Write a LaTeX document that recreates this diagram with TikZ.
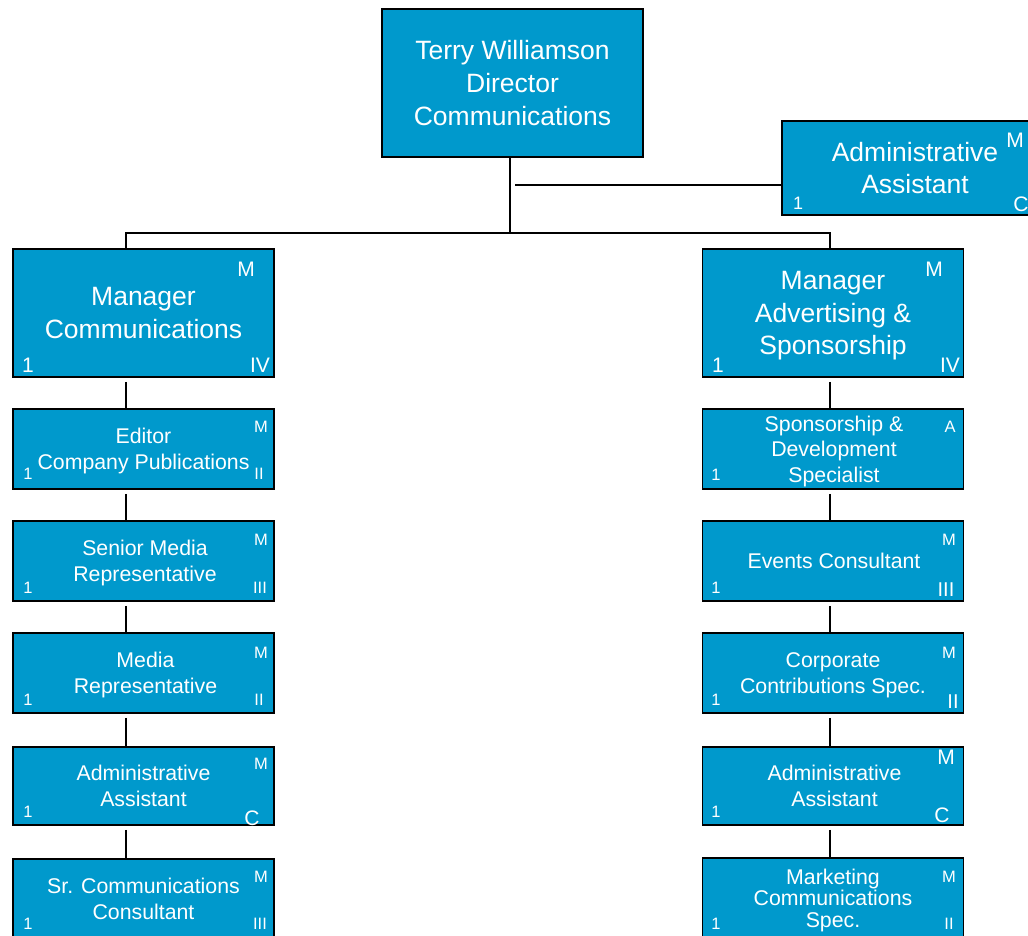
\documentclass[tikz,border=0pt]{standalone}
\usepackage{fontspec}
\setmainfont{Liberation Sans}
\definecolor{boxblue}{RGB}{0,153,204}
\newcommand\bigf{\fontsize{26.5}{32.5}\selectfont}
\newcommand\smallf{\fontsize{21.3}{25.7}\selectfont}
\newcommand\lblbig{\fontsize{21}{24}\selectfont}
\newcommand\lblsm{\fontsize{16.5}{19}\selectfont}
\begin{document}
\begin{tikzpicture}[x=1pt,y=-1pt,
  orgbox/.style={draw=black, line width=1.8pt, fill=boxblue, text=white, inner sep=0pt, align=center, minimum width=261pt},
  bigbox/.style={orgbox, minimum height=128pt, font=\bigf, text depth=0pt},
  smbox/.style={orgbox, minimum height=80pt, font=\smallf, text depth=0pt},
  lbl/.style={text=white, inner sep=0pt, anchor=center, font=\lblsm},
  lblb/.style={text=white, inner sep=0pt, anchor=center, font=\lblbig},
  conn/.style={line width=1.8pt}]
\clip (0,0) rectangle (1028,935);
\useasboundingbox (0,0) rectangle (1028,935);

% top
\node[orgbox, minimum height=148pt, font=\fontsize{26.5}{33}\selectfont] (top) at (512.5,83) {Terry Williamson\\Director\\Communications};
\node[orgbox, minimum width=262pt, minimum height=94pt, font=\bigf] (adm) at (913,168) {\hspace*{4pt}Administrative\\\hspace*{4pt}Assistant};
\node[lblb] (admM) at (1015,140) {M};
\node[lbl, font=\fontsize{18}{20}\selectfont] (adm1) at (798,203) {1};
\node[lblb] (admC) at (1021,204) {C};

% left column
\node[bigbox] (mc) at (143.5,313) {Manager\\Communications};
\node[lblb] (mcM) at (246,269) {M};
\node[lblb] (mc1) at (28,365) {1};
\node[lblb] (mcG) at (260,365) {IV};

\node[smbox] (ed) at (143.5,449) {Editor\\Company Publications};
\node[lbl] (edM) at (261,427) {M};
\node[lbl] (ed1) at (28,474) {1};
\node[lbl] (edG) at (259,474) {II};

\node[smbox] (sm) at (143.5,561) {\hspace*{3pt}Senior Media\\\hspace*{3pt}Representative};
\node[lbl] (smM) at (261,540) {M};
\node[lbl] (sm1) at (28,588) {1};
\node[lbl] (smG) at (260,588) {III};

\node[smbox] (mr) at (143.5,673) {\hspace*{4pt}Media\\\hspace*{4pt}Representative};
\node[lbl] (mrM) at (261,653) {M};
\node[lbl] (mr1) at (28,700) {1};
\node[lbl] (mrG) at (259,700) {II};

\node[smbox, minimum height=78pt] (aa) at (143.5,786) {Administrative\\Assistant};
\node[lbl] (aaM) at (261,764) {M};
\node[lbl] (aa1) at (28,812) {1};
\node[lblb] (aaG) at (252,818) {C};

\node[smbox] (sc) at (143.5,899) {Sr. Communications\\Consultant};
\node[lbl] (scM) at (261,877) {M};
\node[lbl] (sc1) at (28,924) {1};
\node[lbl] (scG) at (260,924) {III};

% right column
\node[bigbox] (ma) at (833,313) {Manager\\Advertising \&\\Sponsorship};
\node[lblb] (maM) at (934,269) {M};
\node[lblb] (ma1) at (718,365) {1};
\node[lblb] (maG) at (950,365) {IV};

\node[smbox] (sp) at (833,449) {\hspace*{2pt}Sponsorship \&\\\hspace*{2pt}Development\\\hspace*{2pt}Specialist};
\node[lbl] (spM) at (950,427) {A};
\node[lbl] (sp1) at (716,475) {1};

\node[smbox] (ev) at (833,561) {\hspace*{2pt}Events Consultant};
\node[lbl] (evM) at (949,540) {M};
\node[lbl] (ev1) at (716,588) {1};
\node[lbl, font=\fontsize{20}{22}\selectfont] (evG) at (946,590) {III};

\node[smbox] (cc) at (833,673) {Corporate\\Contributions Spec.};
\node[lbl] (ccM) at (949,653) {M};
\node[lbl] (cc1) at (716,700) {1};
\node[lbl, font=\fontsize{20}{22}\selectfont] (ccG) at (953,702) {II};

\node[smbox, minimum height=78pt] (ab) at (833,786) {\hspace*{3pt}Administrative\\\hspace*{3pt}Assistant};
\node[lblb] (abM) at (946,757) {M};
\node[lbl] (ab1) at (716,812) {1};
\node[lblb] (abG) at (942,815) {C};

\node[smbox, font=\fontsize{21.3}{21.5}\selectfont] (mk) at (833,898) {Marketing\\Communications\\Spec.};
\node[lbl] (mkM) at (949,877) {M};
\node[lbl] (mk1) at (716,924) {1};
\node[lbl] (mkG) at (949,924) {II};

% connectors
\coordinate (bus) at (510,233);
\coordinate (aend) at (515,185);
\draw[conn] ([xshift=-2.5pt]top.south) -- (bus);
\draw[conn] ([xshift=-17.5pt]mc.north) |- (bus) -| ([xshift=-3pt]ma.north);
\draw[conn] (aend) -- (aend -| adm.west);

\draw[conn] ([xshift=-17.5pt,yshift=-4pt]mc.south) -- ([xshift=-17.5pt]ed.north);
\draw[conn] ([xshift=-17.5pt,yshift=-4pt]ed.south) -- ([xshift=-17.5pt]sm.north);
\draw[conn] ([xshift=-17.5pt,yshift=-4pt]sm.south) -- ([xshift=-17.5pt]mr.north);
\draw[conn] ([xshift=-17.5pt,yshift=-4pt]mr.south) -- ([xshift=-17.5pt]aa.north);
\draw[conn] ([xshift=-17.5pt,yshift=-4pt]aa.south) -- ([xshift=-17.5pt]sc.north);

\draw[conn] ([xshift=-3pt,yshift=-4pt]ma.south) -- ([xshift=-3pt]sp.north);
\draw[conn] ([xshift=-3pt,yshift=-4pt]sp.south) -- ([xshift=-3pt]ev.north);
\draw[conn] ([xshift=-3pt,yshift=-4pt]ev.south) -- ([xshift=-3pt]cc.north);
\draw[conn] ([xshift=-3pt,yshift=-4pt]cc.south) -- ([xshift=-3pt]ab.north);
\draw[conn] ([xshift=-3pt,yshift=-4pt]ab.south) -- ([xshift=-3pt]mk.north);
\end{tikzpicture}
\end{document}
